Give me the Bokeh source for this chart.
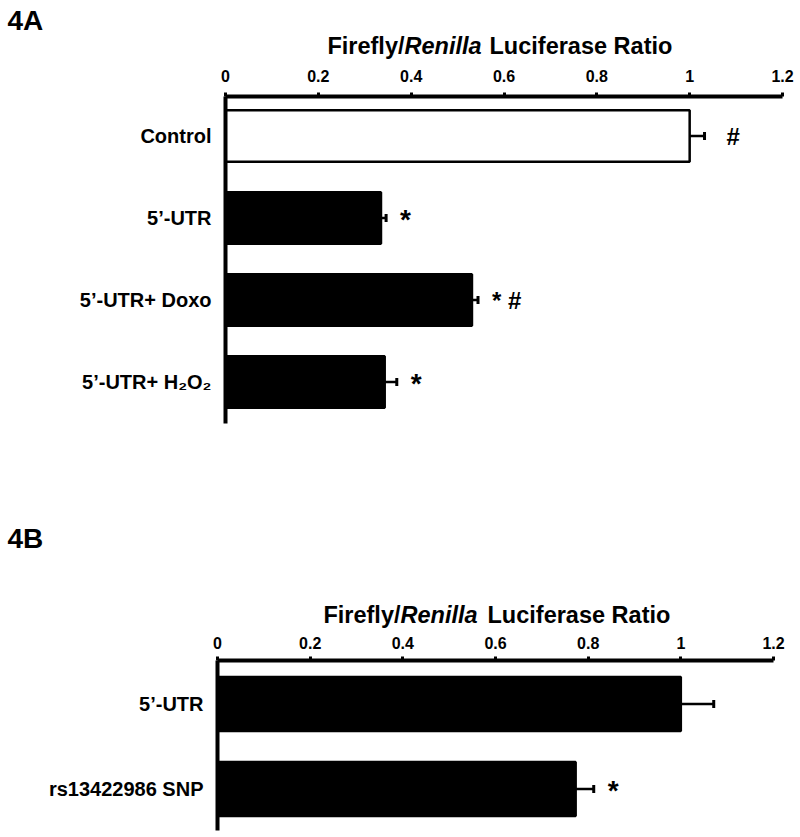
from bokeh.plotting import figure
from bokeh.models import Range1d, FixedTicker, Whisker, TeeHead, Label, ColumnDataSource
from bokeh.layouts import column, row
from bokeh.embed import file_html
from bokeh.resources import INLINE
from bokeh.core.properties import value

# ---------------- data ----------------
a_categories = ["Control", "5\u2019-UTR", "5\u2019-UTR+ Doxo", "5\u2019-UTR+ H\u2082O\u2082"]
a_values = [1.0, 0.335, 0.531, 0.343]
a_errors = [0.032, 0.011, 0.013, 0.026]
a_marks = ["#", "*", "* #", "*"]
a_fills = ["white", "black", "black", "black"]

b_categories = ["5\u2019-UTR", "rs13422986 SNP"]
b_values = [1.0, 0.773]
b_errors = [0.071, 0.039]
b_marks = ["", "*"]
b_fills = ["black", "black"]

x_ticks = [0, 0.2, 0.4, 0.6, 0.8, 1, 1.2]
x_tick_labels = ["0", "0.2", "0.4", "0.6", "0.8", "1", "1.2"]
title_parts = ["Firefly/", "Renilla", "Luciferase Ratio"]

FONT = "Liberation Sans"
W = 800


def header(tag, *, height, tag_pos, title_base, title_x):
    """Strip above a panel holding the panel tag and the mixed-style axis title."""
    h = figure(width=W, height=height, x_range=Range1d(0, W), y_range=Range1d(height, 0),
               title=None, toolbar_location=None, output_backend="svg",
               x_axis_type=None, y_axis_type=None,
               min_border_left=0, min_border_right=0, min_border_top=0, min_border_bottom=0)
    h.outline_line_color = None
    h.xgrid.visible = False
    h.ygrid.visible = False
    h.background_fill_color = "white"
    h.border_fill_color = "white"
    h.add_layout(Label(x=tag_pos[0], y=tag_pos[1], text=tag,
                       text_font=FONT, text_font_style="bold", text_font_size="28px",
                       text_color="black", text_baseline="alphabetic", text_align="left"))
    x0, x1, x2 = title_x
    for txt, xo, st, al in ((title_parts[0], x0, "bold", "right"),
                            (title_parts[1], x1, "bold italic", "left"),
                            (title_parts[2], x2, "bold", "left")):
        h.add_layout(Label(x=xo, y=title_base, text=txt,
                           text_font=FONT, text_font_style=st, text_font_size="23.5px",
                           text_color="black", text_baseline="alphabetic", text_align=al))
    return h


def panel(cats, vals, errs, marks, fills, *, height, b_left, b_right, b_top, b_bottom,
          y_pad_top, y_pad_bottom, bar_h, tick_standoff):
    n = len(cats)
    ys = list(range(n))
    src = ColumnDataSource(dict(
        y=ys, value=vals, upper=[v + e for v, e in zip(vals, errs)], fill=fills,
        mark=marks,
        mx=[22 if m.startswith("#") else 14 for m in marks],
        my=[1 if m == "*" else 0 for m in marks],
        fs=["28px" if m == "*" else "24px" for m in marks],
    ))
    p = figure(width=W, height=height, x_axis_location="above",
               x_range=Range1d(0, 1.2),
               y_range=Range1d(n - 1 + y_pad_bottom, -y_pad_top),
               toolbar_location=None, output_backend="svg",
               min_border_left=b_left, min_border_right=b_right,
               min_border_top=b_top, min_border_bottom=b_bottom)
    p.outline_line_color = None
    p.xgrid.visible = False
    p.ygrid.visible = False
    p.background_fill_color = "white"
    p.border_fill_color = "white"

    p.hbar(y="y", left=0, right="value", height=bar_h, fill_color="fill",
           line_color="black", line_width=2.5, source=src)

    wh = Whisker(source=src, base="y", lower="value", upper="upper", dimension="width",
                 line_color="black", line_width=2.5,
                 upper_head=TeeHead(size=8, line_width=3, line_color="black"),
                 lower_head=None)
    p.add_layout(wh)

    p.text(x="upper", y="y", text="mark", source=src, x_offset="mx", y_offset="my",
           text_font=value(FONT), text_font_style="bold", text_font_size="fs",
           text_baseline="middle", text_align="left", text_color="black")

    xa = p.xaxis[0]
    xa.ticker = FixedTicker(ticks=x_ticks)
    xa.major_label_overrides = {t: l for t, l in zip(x_ticks, x_tick_labels)}
    xa.axis_line_width = 4
    xa.axis_line_color = "black"
    xa.major_tick_line_width = 3
    xa.major_tick_out = 4
    xa.major_tick_in = 0
    xa.minor_tick_line_color = None
    xa.major_label_text_font = FONT
    xa.major_label_text_font_style = "bold"
    xa.major_label_text_font_size = "16px"
    xa.major_label_text_color = "black"
    xa.major_label_standoff = tick_standoff

    ya = p.yaxis[0]
    ya.ticker = FixedTicker(ticks=ys)
    ya.major_label_overrides = {i: c for i, c in zip(ys, cats)}
    ya.axis_line_width = 4
    ya.axis_line_color = "black"
    ya.major_tick_line_color = None
    ya.major_tick_out = 0
    ya.major_tick_in = 0
    ya.minor_tick_line_color = None
    ya.major_label_text_font = FONT
    ya.major_label_text_font_style = "bold"
    ya.major_label_text_font_size = "20px"
    ya.major_label_text_color = "black"
    ya.major_label_standoff = 14
    return p


hA = header("4A", height=60, tag_pos=(7, 20), title_base=45.5, title_x=(404, 404, 489))
pA = panel(a_categories, a_values, a_errors, a_marks, a_fills,
           height=390, b_left=225, b_right=18, b_top=36, b_bottom=27,
           y_pad_top=0.482, y_pad_bottom=0.506, bar_h=0.628, tick_standoff=11)

hB = header("4B", height=178, tag_pos=(7, 88), title_base=164.5, title_x=(400, 400, 487))
pB = panel(b_categories, b_values, b_errors, b_marks, b_fills,
           height=208, b_left=217, b_right=27, b_top=32, b_bottom=6,
           y_pad_top=0.512, y_pad_bottom=0.488, bar_h=0.637, tick_standoff=8)

layout = column(row(hA), row(pA), row(hB), row(pB))
open("out.html", "w").write(file_html(layout, INLINE))
